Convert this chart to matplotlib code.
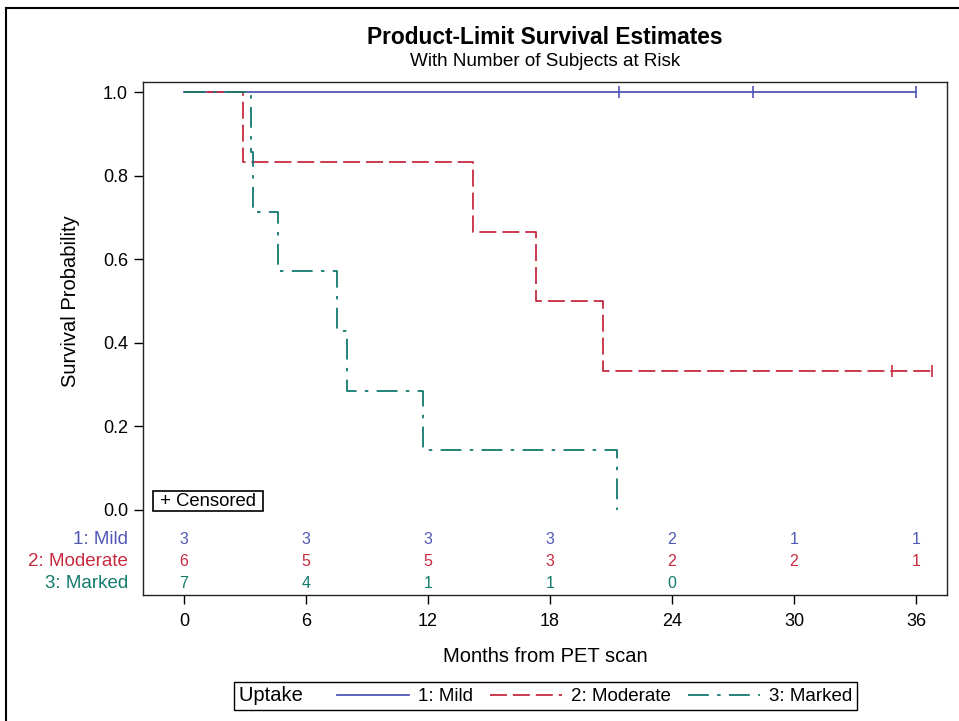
import matplotlib
matplotlib.use('Agg')
import matplotlib.pyplot as plt
from matplotlib.lines import Line2D

plt.rcParams['font.family'] = ['Liberation Sans', 'DejaVu Sans']
plt.rcParams['lines.scale_dashes'] = False

# datos (meses, 1 = evento, 0 = censurado)
groups = ['1: Mild', '2: Moderate', '3: Marked']
mild_time = [21.4, 28.0, 36.0]
mild_event = [0, 0, 0]
moderate_time = [2.9, 14.2, 17.3, 20.6, 34.8, 36.8]
moderate_event = [1, 1, 1, 1, 0, 0]
marked_time = [3.3, 3.4, 4.6, 7.5, 8.0, 11.75, 21.3]
marked_event = [1, 1, 1, 1, 1, 1, 1]

risk_times = [0, 6, 12, 18, 24, 30, 36]
mild_risk = [3, 3, 3, 3, 2, 1, 1]
moderate_risk = [6, 5, 5, 3, 2, 2, 1]
marked_risk = [7, 4, 1, 1, 0]

colors = ['#5058b4', '#c62b40', '#137a6e']
styles = ['-', (0, (12.2, 4.3)), (0, (15, 6, 2.5, 6))]


def km(times, events):
    # estimador producto-limite
    n = len(times)
    s = 1.0
    xs, ys, cx, cy = [0], [1.0], [], []
    for t, e in sorted(zip(times, events)):
        if e:
            s = s * (n - 1) / n
            xs.append(t)
            ys.append(s)
        else:
            cx.append(t)
            cy.append(s)
        n -= 1
    xs.append(max(times))
    ys.append(s)
    return xs, ys, cx, cy


fig = plt.figure(figsize=(9.59, 7.21), dpi=100)
ax = fig.add_axes([0.1491, 0.1748, 0.8384, 0.7115])

data = [(mild_time, mild_event), (moderate_time, moderate_event), (marked_time, marked_event)]
for (t, e), c, ls in zip(data, colors, styles):
    xs, ys, cx, cy = km(t, e)
    ax.step(xs, ys, where='post', color=c, ls=ls, lw=1.3)
    ax.plot(cx, cy, ls='none', marker='|', ms=8.5, mew=1.2, color=c)

ax.set_xlim(-2.02, 37.53)
ax.set_ylim(-0.2035, 1.0247)
ax.set_xticks(risk_times)
ax.set_yticks([0.0, 0.2, 0.4, 0.6, 0.8, 1.0])
ax.set_yticklabels(['0.0', '0.2', '0.4', '0.6', '0.8', '1.0'])
ax.tick_params(axis='x', length=6.5, width=1.0, labelsize=13, pad=6.5)
ax.tick_params(axis='y', length=6.5, width=1.0, labelsize=13, pad=4.3)
for sp in ax.spines.values():
    sp.set_linewidth(1.0)
    sp.set_color('#222222')

ax.set_xlabel('Months from PET scan', fontsize=14.5, labelpad=12)
ax.set_ylabel('Survival Probability', fontsize=14.5)
ax.yaxis.set_label_coords(-0.078, 0.573)

# tabla de sujetos en riesgo
row_y = [-0.0718, -0.1244, -0.177]
risks = [mild_risk, moderate_risk, marked_risk]
for g, r, yy, c in zip(groups, risks, row_y, colors):
    ax.text(-0.0187, yy, g, color=c, fontsize=13.5, ha='right', va='center',
            transform=ax.get_yaxis_transform())
    for x, v in zip(risk_times, r):
        ax.text(x, yy, str(v), color=c, fontsize=11.5, ha='center', va='center',
                family=['Liberation Sans', 'DejaVu Sans'])

ax.text(0.0149, 0.183, ' + Censored ', fontsize=13.3, ha='left', va='center',
        transform=ax.transAxes,
        bbox=dict(boxstyle='square,pad=0.08', fc='white', ec='black', lw=1.2))

fig.text(0.568, 1 - 37 / 721, 'Product-Limit Survival Estimates', ha='center', va='center',
         fontsize=16.4, fontweight='bold')
fig.text(0.568, 1 - 61 / 721, 'With Number of Subjects at Risk', ha='center', va='center',
         fontsize=13.6)

# leyenda con el titulo a la izquierda
handles = [Line2D([], [], color=c, ls=ls, lw=1.3) for c, ls in zip(colors, styles)]
leg = fig.legend(handles, groups, ncol=3, title='Uptake   ', loc='center',
                 bbox_to_anchor=(0.569, 0.0347), fontsize=13.5, title_fontsize=14.5,
                 frameon=True, fancybox=False, edgecolor='black', framealpha=1,
                 handlelength=3.85, handletextpad=0.48, columnspacing=0.9,
                 borderpad=0.25, borderaxespad=0)
leg.get_frame().set_linewidth(1.0)
vp = leg.get_children()[0]
title_box = vp.get_children()[0]
hp = vp.get_children()[1]
vp._children = [hp]
hp._children = [title_box] + hp.get_children()

# marco exterior (solo izquierda y arriba)
fig.add_artist(Line2D([6 / 959, 6 / 959], [0, 1 - 8 / 721], transform=fig.transFigure,
                      color='black', lw=1.5))
fig.add_artist(Line2D([6 / 959, 1], [1 - 8 / 721, 1 - 8 / 721], transform=fig.transFigure,
                      color='black', lw=1.5))

fig.savefig('out.png', dpi=100)
